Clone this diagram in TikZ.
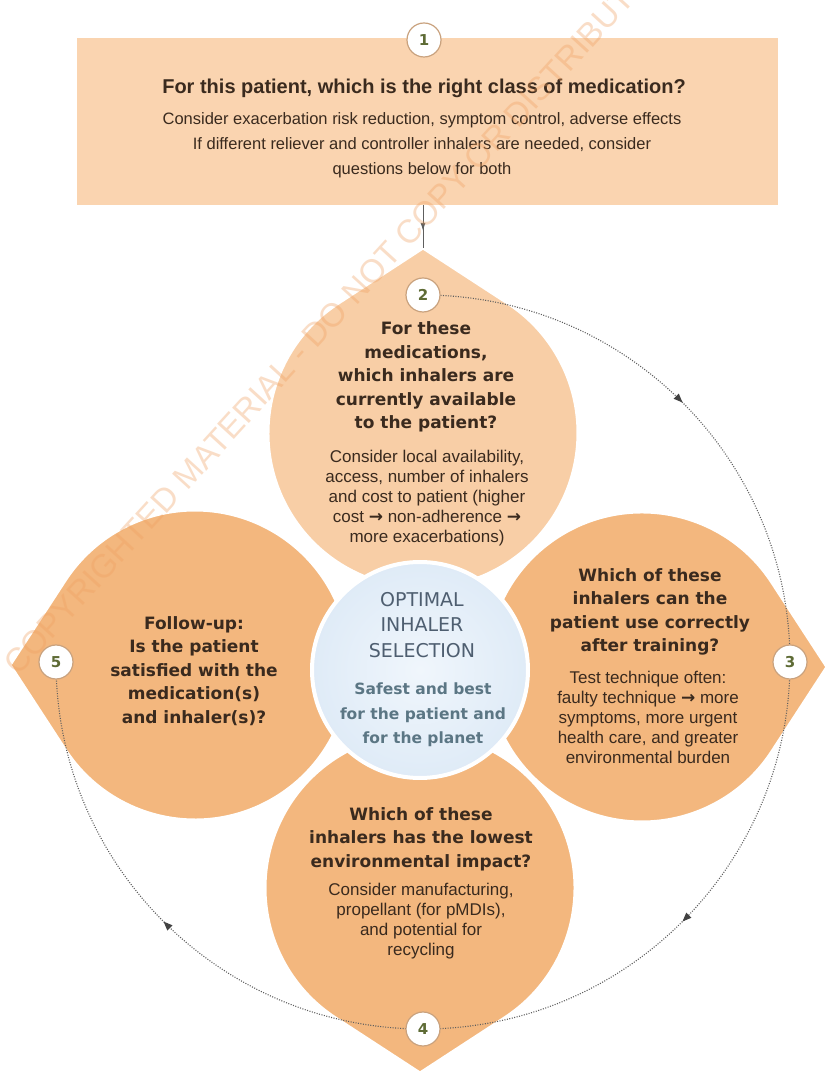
\documentclass[tikz,border=0pt]{standalone}
\usepackage{fontspec}
\setmainfont{Liberation Sans}
\newfontfamily\dv{DejaVu Sans}
\usetikzlibrary{arrows.meta,decorations.markings,calc}
\definecolor{boxfill}{HTML}{FAD4B0}
\definecolor{petallight}{HTML}{F8CEA6}
\definecolor{petaldark}{HTML}{F3B77E}
\definecolor{centerfill}{HTML}{DFEBF7}
\definecolor{centerin}{HTML}{F0F6FC}
\definecolor{txtbrown}{HTML}{3A2A1E}
\definecolor{numcol}{HTML}{5E6B35}
\definecolor{ringcol}{HTML}{C9A27E}
\definecolor{ctrtxt}{HTML}{4E5E70}
\definecolor{ctrsub}{HTML}{5B7684}
\definecolor{wmark}{HTML}{F0A060}
\definecolor{dotcol}{HTML}{5E5E5E}
\newcommand{\arr}{{\dv\bfseries →}}
\begin{document}
\begin{tikzpicture}[x=1pt,y=1pt,
  petal/.style={draw=white, line width=3pt},
  numcirc/.style={circle, draw=ringcol, line width=1.2pt, fill=white, minimum size=34pt, inner sep=0pt, font=\dv\bfseries\fontsize{15}{15}\selectfont, text=numcol},
  head/.style={align=center, text=txtbrown, inner sep=0pt, font=\dv\bfseries\fontsize{17}{23.5}\selectfont},
  body/.style={align=center, text=txtbrown, inner sep=0pt, font=\fontsize{17}{20}\selectfont},
  boxhead/.style={align=center, text=txtbrown, inner sep=0pt, font=\bfseries\fontsize{20}{24}\selectfont},
  boxbody/.style={align=center, text=txtbrown, inner sep=0pt, font=\fontsize{16.5}{25}\selectfont},
  ctrhead/.style={align=center, text=ctrtxt, inner sep=0pt, font=\dv\fontsize{19}{25.5}\selectfont},
  ctrbody/.style={align=center, text=ctrsub, inner sep=0pt, font=\dv\bfseries\fontsize{15.5}{24.5}\selectfont},
  dotline/.style={draw=dotcol, line width=1.1pt, dash pattern=on 1pt off 1.5pt},
  cyclearrows/.style={postaction=decorate, decoration={markings,
     mark=at position 0.1667 with {\arrow[fill=dotcol!70!black, draw=dotcol!70!black]{Triangle[length=9pt,width=7pt]}},
     mark=at position 0.5 with {\arrow[fill=dotcol!70!black, draw=dotcol!70!black]{Triangle[length=9pt,width=7pt]}},
     mark=at position 0.8333 with {\arrow[fill=dotcol!70!black, draw=dotcol!70!black]{Triangle[length=9pt,width=7pt]}}}},
  wm/.style={text=wmark, text opacity=0.35, inner sep=0pt, font=\fontsize{33}{33}\selectfont}
]
\useasboundingbox (0,0) rectangle (828,1077);
\fill[white] (0,0) rectangle (828,1077);

% key coordinates
\coordinate (oc) at (423,415);
\coordinate (tip2) at (423,829);
\coordinate (c2) at (423,644);
\coordinate (tip3) at (827,410);
\coordinate (c3) at (642,410);
\coordinate (tip4) at (420,4);
\coordinate (c4) at (420,189);
\coordinate (tip5) at (10,412);
\coordinate (c5) at (195,412);

% box 1
\node[fill=boxfill, minimum width=701pt, minimum height=167pt, inner sep=0pt] (box) at (427.5,955.5) {};

% petals
\fill[petallight, petal] (tip2) -- ($(c2)+(123.1:155)$) arc[start angle=123.1, end angle=416.9, radius=155] -- cycle;
\fill[petaldark, petal] (tip3) -- ($(c3)+(33.1:155)$) arc[start angle=33.1, end angle=326.9, radius=155] -- cycle;
\fill[petaldark, petal] (tip4) -- ($(c4)+(303.1:155)$) arc[start angle=303.1, end angle=596.9, radius=155] -- cycle;
\fill[petaldark, petal] (tip5) -- ($(c5)+(213.1:155)$) arc[start angle=213.1, end angle=506.9, radius=155] -- cycle;

% centre circle
\node[circle, inner color=centerin, outer color=centerfill, draw=white, line width=4pt, minimum size=216pt, inner sep=0pt] (ctr) at (420,407) {};

% arrow from box to step 2
\draw[draw=dotcol, line width=0.9pt, postaction=decorate,
  decoration={markings, mark=at position 0.6 with {\arrow[fill=dotcol!70!black]{Latex[length=8pt,width=5pt]}}}]
  (tip2 |- box.south) -- (tip2);

% dotted cycle
\draw[dotline, cyclearrows] ($(oc)+(90:367)$) arc[start angle=90, end angle=-180, radius=367];

% numbered circles
\node[numcirc] (n1) at (424,1037) {1};
\node[numcirc] (n2) at (423,782) {2};
\node[numcirc] (n3) at (790,415) {3};
\node[numcirc] (n4) at (423,48) {4};
\node[numcirc] (n5) at (56,415) {5};

% box texts
\node[boxhead] (t1) at (424,989) {For this patient, which is the right class of medication?};
\node[boxbody] (b1) at (422,932) {Consider exacerbation risk reduction, symptom control, adverse effects\\If different reliever and controller inhalers are needed, consider\\questions below for both};

% petal 2
\node[head] (h2) at (426,700) {For these\\medications,\\which inhalers are\\currently available\\to the patient?};
\node[body] (d2) at (427,579) {Consider local availability,\\access, number of inhalers\\and cost to patient (higher\\cost \arr{} non-adherence \arr\\more exacerbations)};

% petal 3
\node[head] (h3) at (650,465) {Which of these\\inhalers can the\\patient use correctly\\after training?};
\node[body] (d3) at (648,360) {Test technique often:\\faulty technique \arr{} more\\symptoms, more urgent\\health care, and greater\\environmental burden};

% petal 4
\node[head] (h4) at (421,238) {Which of these\\inhalers has the lowest\\environmental impact?};
\node[body] (d4) at (421,156) {Consider manufacturing,\\propellant (for pMDIs),\\and potential for\\recycling};

% petal 5
\node[head] (h5) at (194,406) {Follow-up:\\Is the patient\\satisfied with the\\medication(s)\\and inhaler(s)?};

% centre texts
\node[ctrhead] (ch) at (422,452) {OPTIMAL\\INHALER\\SELECTION};
\node[ctrbody] (cb) at (423,362) {Safest and best\\for the patient and\\for the planet};

% watermark
\node[wm, rotate=47.6, anchor=base west] (wmk) at (18,400) {COPYRIGHTED MATERIAL - DO NOT COPY OR DISTRIBUTE};
\end{tikzpicture}
\end{document}
